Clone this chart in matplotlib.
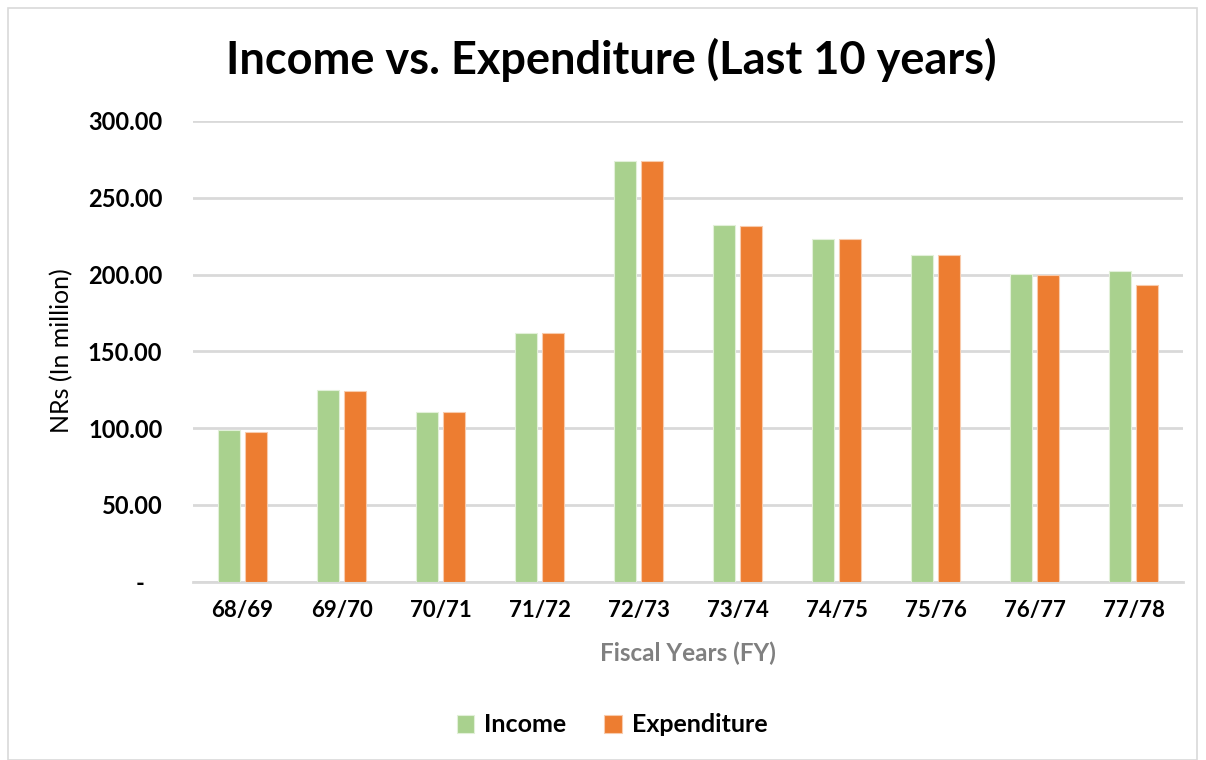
import matplotlib.pyplot as plt
import numpy as np
from matplotlib.patches import Rectangle

categories = ["68/69", "69/70", "70/71", "71/72", "72/73", "73/74", "74/75", "75/76", "76/77", "77/78"]
income = [98.6, 124.7, 110.5, 162.2, 274.2, 232.1, 223.0, 212.8, 200.6, 202.6]
expenditure = [97.5, 124.0, 110.1, 161.6, 273.8, 231.6, 223.4, 212.6, 199.5, 193.0]
yticks = [0, 50, 100, 150, 200, 250, 300]
ytick_labels = ["-   ", "50.00", "100.00", "150.00", "200.00", "250.00", "300.00"]

FONT = "Lato"
W, H = 1206, 760
fig = plt.figure(figsize=(W / 100, H / 100), dpi=100)
fig.patch.set_facecolor("white")

# outer border
fig.add_artist(Rectangle((8 / W, 0 / H), (1197 - 8) / W, (752 - 0) / H, transform=fig.transFigure,
                         fill=False, edgecolor="#D9D9D9", linewidth=1.2))

left, right = 193, 1183
top, bottom = 121, 581.5
ax = fig.add_axes([left / W, 1 - bottom / H, (right - left) / W, (bottom - top) / H])

x = np.arange(len(categories))
bw = 0.22
gap = 0.06
ax.bar(x - (bw + gap) / 2, income, width=bw, color="#A9D18E", edgecolor="#E2F0D9", linewidth=0.8,
       label="Income", zorder=3)
ax.bar(x + (bw + gap) / 2, expenditure, width=bw, color="#ED7D31", edgecolor="#F8CBAD", linewidth=0.8,
       label="Expenditure", zorder=3)

ax.set_xlim(-0.5, len(categories) - 0.5)
ax.set_ylim(0, 300)
ax.set_yticks(yticks)
ax.set_yticklabels(ytick_labels, fontsize=17, fontweight="bold", fontfamily=FONT)
ax.set_xticks(x)
ax.set_xticklabels(categories, fontsize=16, fontweight="bold", fontfamily=FONT)
ax.tick_params(axis="both", length=0)
ax.tick_params(axis="y", pad=22)
ax.tick_params(axis="x", pad=13)
ax.grid(axis="y", color="#D9D9D9", linewidth=2, zorder=0)
for s in ["top", "right", "left"]:
    ax.spines[s].set_visible(False)
ax.spines["bottom"].set_color("#D9D9D9")
ax.spines["bottom"].set_linewidth(2)

fig.text(611 / W, 1 - 60 / H, "Income vs. Expenditure (Last 10 years)", ha="center", va="center",
         fontsize=32.5, fontweight="bold", fontfamily=FONT)
fig.text(688 / W, 1 - 653 / H, "Fiscal Years (FY)", ha="center", va="center",
         fontsize=17.5, fontweight="bold", color="#808080", fontfamily=FONT)
fig.text(62 / W, 1 - 351 / H, "NRs (In million)", ha="center", va="center", rotation=90,
         fontsize=18, fontfamily=FONT)

handles, labels = ax.get_legend_handles_labels()
leg = fig.legend(handles, labels, loc="center", bbox_to_anchor=(612 / W, 1 - 725 / H), ncol=2,
                 frameon=False, prop={"family": FONT, "weight": "bold", "size": 18},
                 handlelength=0.7, handleheight=0.7, handletextpad=0.4, columnspacing=1.5)

fig.savefig("out.png", dpi=100, facecolor="white")
